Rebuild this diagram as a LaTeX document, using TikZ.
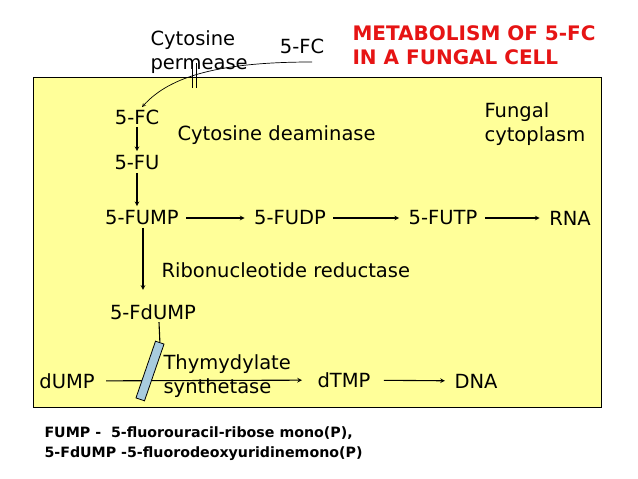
\documentclass[tikz,border=0pt]{standalone}
\usepackage{fontspec}
\setmainfont{DejaVu Sans}
\usepackage{xcolor}

\definecolor{cellyellow}{RGB}{255,255,153}
\definecolor{titlered}{RGB}{230,20,20}
\definecolor{barblue}{RGB}{168,204,222}

\begin{document}
\begin{tikzpicture}[
            x = 1pt, y = -1pt, % pixel grid, y running down
            > = stealth, % arrow head style
            shorten > = 2pt, % don't touch arrow head to node
            every node/.style = {font=\fontsize{19.5}{24}\selectfont, inner xsep=7pt, inner ysep=2pt},
            leftnote/.style = {align=left, anchor=west, inner xsep=0pt},
            line width = 1.1pt % line style
        ]
\useasboundingbox (0,0) rectangle (638,479);
\fill[white] (0,0) rectangle (638,479);
\draw[fill=cellyellow, line width=0.8pt] (33,77) rectangle (601,407);

% outside the cell
\node (fcout) at (302,46) {5-FC};
\node[leftnote] (permease) at (150,52) {Cytosine\\permease};
\node[leftnote, text=titlered, font=\bfseries\fontsize{20}{24}\selectfont] (title) at (352,45) {METABOLISM OF 5-FC\\IN A FUNGAL CELL};

% inside the cell
\node (fc) at (137,117) {5-FC};
\node[leftnote] (deaminase) at (177,135) {Cytosine deaminase};
\node[leftnote] (cytoplasm) at (484,124) {Fungal\\cytoplasm};
\node (fu) at (137,163) {5-FU};
\node (fump) at (142,218) {5-FUMP};
\node (fudp) at (290,218) {5-FUDP};
\node (futp) at (443,218) {5-FUTP};
\node (rna) at (570,218) {RNA};
\node[leftnote] (reductase) at (161,270) {Ribonucleotide reductase};
\node (fdump) at (153,312) {5-FdUMP};
\node (dump) at (67,381) {dUMP};
\node[leftnote] (synthetase) at (163,376) {Thymydylate\\synthetase};
\node (dtmp) at (344,380) {dTMP};
\node (dna) at (476,381) {DNA};

\node[leftnote, font=\bfseries\fontsize{14.2}{20}\selectfont] (legend) at (44,444) {FUMP -~~5-fluorouracil-ribose mono(P),\\5-FdUMP -5-fluorodeoxyuridinemono(P)};

% uptake through the membrane
\coordinate (entry) at (312,62);
\draw[->, line width=0.7pt, shorten > = 0pt] (entry) .. controls (220,62) and (170,76) .. ([xshift=5pt]fc.north);
\foreach \x in {192,196}
    \draw[line width=0.8pt] (\x,63) -- (\x,90);

 \path [->] (fc) edge (fu);
 \path [->] (fu.south) edge (fu.south |- fump.north);
 \path [->] (fump) edge (fudp);
 \path [->] (fudp) edge (futp);
 \path [->] (futp) edge (rna);
 \path [->, shorten > = 12pt] ([xshift=1pt]fump.south) edge ([xshift=1pt]fump.south |- fdump.north);
 \path [->, shorten < = 4pt, shorten > = 8pt] (dump) edge (dtmp);
 \path [->, shorten < = 6pt] (dtmp) edge (dna);

% enzyme blocked by 5-FdUMP
\node[draw, line width=0.8pt, fill=barblue, minimum width=9pt, minimum height=60pt, inner sep=0pt, rotate=-19] (bar) at (150,371) {};
\draw[shorten > = 0pt] ([xshift=6pt]fdump.south) -- (bar.north);

\end{tikzpicture}
\end{document}
